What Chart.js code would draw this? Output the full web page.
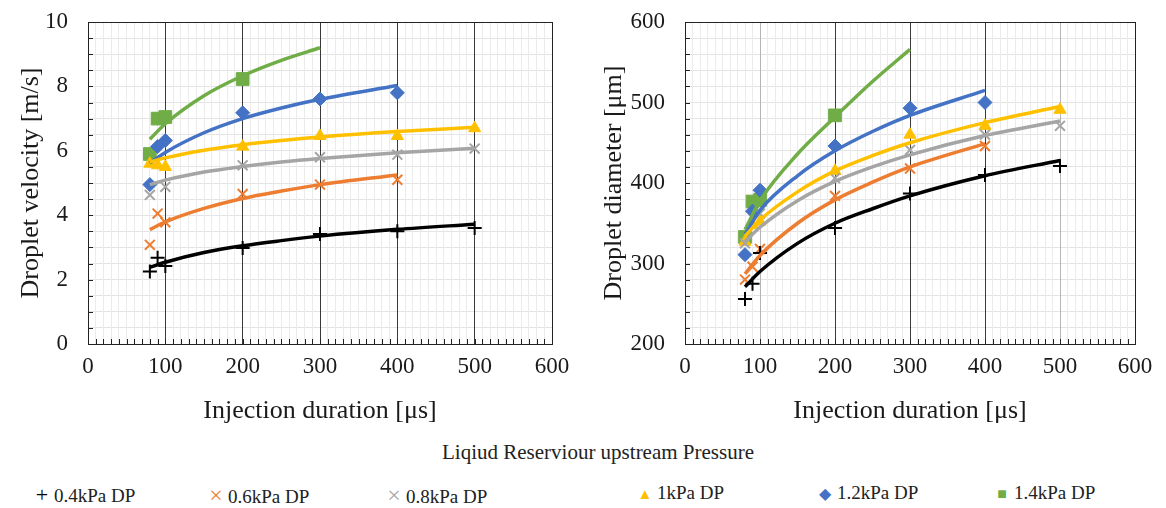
<!DOCTYPE html>
<html>
<head>
<meta charset="utf-8">
<script src="https://cdn.jsdelivr.net/npm/chart.js@4"></script>
<style>
  body { margin: 0; background: #fff; width: 1166px; height: 508px; position: relative; overflow: hidden; font-family: 'Liberation Serif', 'Times New Roman', serif; }
  .box { position: absolute; top: 0; width: 583px; height: 430px; }
  #legendTitle { position: absolute; top: 440px; left: 0; width: 1196px; text-align: center; font-size: 21px; color: #222; }
  .item { position: absolute; top: 482px; font-size: 19px; color: #222; white-space: nowrap; }
  .item span { display: inline-block; width: 18px; text-align: center; margin-right: 3px; }
</style>
</head>
<body>
<div class="box" style="left:0"><canvas id="velocityChart" width="583" height="430"></canvas></div>
<div class="box" style="left:583px"><canvas id="diameterChart" width="583" height="430"></canvas></div>
<div id="legendTitle">Liqiud Reserviour upstream Pressure</div>
<div id="legend"></div>

<script>
// Series labels and colours
const seriesLabels = ['0.4kPa DP', '0.6kPa DP', '0.8kPa DP', '1kPa DP', '1.2kPa DP', '1.4kPa DP'];
const seriesColors = ['#000000', '#ED7D31', '#A5A5A5', '#FFC000', '#4472C4', '#70AD47'];
const seriesMarkers = ['cross', 'crossRot', 'crossRot', 'triangle', 'rectRot', 'rect'];
const legendGlyphs = ['+', '\u00d7', '\u00d7', '\u25b2', '\u25c6', '\u25a0'];

// Measured injection durations [us]
const durations = [80, 90, 100, 200, 300, 400, 500];

// Droplet velocity [m/s] per pressure
const vel04 = [2.25, 2.68, 2.42, 2.98, 3.42, 3.50, 3.60];
const vel06 = [3.08, 4.05, 3.78, 4.66, 4.95, 5.10, null];
const vel08 = [4.63, null, 4.88, 5.55, 5.80, 5.88, 6.07];
const vel10 = [5.60, 5.55, 5.50, 6.13, 6.46, 6.46, 6.70];
const vel12 = [4.95, 6.13, 6.32, 7.18, 7.61, 7.80, null];
const vel14 = [5.90, 7.00, 7.05, 8.23, null, null, null];

// Droplet diameter [um] per pressure
const dia04 = [256, 275, 313, 344, 387, 410, 421];
const dia06 = [280, 296, 318, 384, 418, 446, null];
const dia08 = [325, null, 362, 406, 441, 460, 471];
const dia10 = [327, 348, 352, 415, 460, 471, 491];
const dia12 = [311, 365, 391, 446, 493, 500, null];
const dia14 = [333, 377, 379, 484, null, null, null];

// Trend lines
const trendX = [80, 100, 150, 200, 250, 300, 400, 500];
const velTrend04 = [2.38, 2.54, 2.84, 3.05, 3.21, 3.35, 3.56, 3.72];
const velTrend06 = [3.55, 3.79, 4.21, 4.52, 4.75, 4.95, 5.25, null];
const velTrend08 = [4.95, 5.09, 5.34, 5.51, 5.65, 5.76, 5.94, 6.08];
const velTrend10 = [5.65, 5.78, 6.02, 6.19, 6.32, 6.43, 6.60, 6.73];
const velTrend12 = [5.62, 5.95, 6.56, 7.00, 7.33, 7.60, 8.03, null];
const velTrend14 = [6.36, 6.84, 7.71, 8.33, 8.81, 9.20, null, null];

const diaTrend04 = [271, 290, 325, 350, 368, 384, 409, 428];
const diaTrend06 = [287, 310, 350, 379, 401, 420, 449, null];
const diaTrend08 = [327, 345, 378, 402, 420, 435, 459, 477];
const diaTrend10 = [334, 354, 389, 415, 434, 450, 475, 495];
const diaTrend12 = [336, 366, 409, 440, 464, 484, 515, null];
const diaTrend14 = [342, 378, 436, 482, 526, 566, null, null];

const velSeries = [vel04, vel06, vel08, vel10, vel12, vel14];
const velTrends = [velTrend04, velTrend06, velTrend08, velTrend10, velTrend12, velTrend14];
const diaSeries = [dia04, dia06, dia08, dia10, dia12, dia14];
const diaTrends = [diaTrend04, diaTrend06, diaTrend08, diaTrend10, diaTrend12, diaTrend14];

const FONT = "'Liberation Serif', 'Times New Roman', serif";

function toPoints(xs, ys) {
  return xs.map((x, i) => ({ x: x, y: ys[i] })).filter(p => p.y !== null);
}

function markerRadius(style) {
  if (style === 'rect') return 9;
  return 7;
}

function buildDatasets(series, trends) {
  const sets = [];
  series.forEach((ys, i) => {
    const marker = seriesMarkers[i];
    sets.push({
      type: 'line',
      label: seriesLabels[i] + ' trend',
      data: toPoints(trendX, trends[i]),
      borderColor: seriesColors[i],
      borderWidth: 3.5,
      pointRadius: 0,
      fill: false,
      cubicInterpolationMode: 'monotone',
      order: 0
    });
    sets.push({
      type: 'scatter',
      label: seriesLabels[i],
      data: toPoints(durations, ys),
      pointStyle: marker,
      pointRadius: markerRadius(marker),
      pointBackgroundColor: seriesColors[i],
      pointBorderColor: seriesColors[i],
      pointBorderWidth: marker.startsWith('cross') ? 2 : 1,
      order: 1
    });
  });
  return sets;
}

// plot box + inward tick marks
const frameAndTicks = {
  id: 'frameAndTicks',
  afterDraw(chart) {
    const { ctx, chartArea: a, scales } = chart;
    ctx.save();
    ctx.strokeStyle = '#222';
    ctx.lineWidth = 1;
    scales.x.ticks.forEach(t => {
      const px = Math.round(scales.x.getPixelForValue(t.value)) + 0.5;
      ctx.beginPath();
      ctx.moveTo(px, a.bottom);
      ctx.lineTo(px, a.bottom - 5);
      ctx.stroke();
    });
    scales.y.ticks.forEach(t => {
      const py = Math.round(scales.y.getPixelForValue(t.value)) + 0.5;
      ctx.beginPath();
      ctx.moveTo(a.left, py);
      ctx.lineTo(a.left + 5, py);
      ctx.stroke();
    });
    ctx.strokeRect(Math.round(a.left) + 0.5, Math.round(a.top) + 0.5, Math.round(a.right - a.left), Math.round(a.bottom - a.top));
    ctx.restore();
  }
};

function makeChart(canvasId, series, trends, cfg) {
  return new Chart(document.getElementById(canvasId), {
    type: 'scatter',
    data: { datasets: buildDatasets(series, trends) },
    options: {
      responsive: false,
      animation: false,
      layout: { padding: { top: 22, right: 31, left: 0, bottom: 0 } },
      plugins: { legend: { display: false }, tooltip: { enabled: false } },
      scales: {
        x: {
          type: 'linear', min: 0, max: 600,
          ticks: {
            stepSize: 10, autoSkip: false, maxRotation: 0, maxTicksLimit: 100, padding: 9,
            color: '#1a1a1a', font: { family: FONT, size: 23 },
            callback: v => (v % 100 === 0 ? v : '')
          },
          grid: { drawTicks: false, color: cfg.xGridColor, z: 0 },
          border: { color: '#222' },
          title: { display: true, text: 'Injection duration [\u03bcs]', color: '#1a1a1a', font: { family: FONT, size: 26 }, padding: { top: 0, bottom: 3 } },
          afterFit: s => { s.height = 86; }
        },
        y: {
          type: 'linear', min: cfg.yMin, max: cfg.yMax,
          ticks: {
            stepSize: cfg.yStep, autoSkip: false, maxTicksLimit: 100, padding: 20,
            color: '#1a1a1a', font: { family: FONT, size: 23 },
            callback: cfg.yLabel
          },
          grid: { drawTicks: false, color: '#e4e4e4', z: -1 },
          border: { color: '#222' },
          title: { display: true, text: cfg.yTitle, color: '#1a1a1a', font: { family: FONT, size: 26 }, padding: { top: cfg.yTitlePad, bottom: 0 } },
          afterFit: s => { s.width = cfg.yWidth; s.paddingTop = 0; s.paddingBottom = 0; }
        }
      }
    },
    plugins: [frameAndTicks]
  });
}

makeChart('velocityChart', velSeries, velTrends, {
  yMin: 0, yMax: 10, yStep: 0.5, yWidth: 88, yTitlePad: 16,
  yTitle: 'Droplet velocity [m/s]',
  yLabel: v => (Number.isInteger(v) && v % 2 === 0 ? v : ''),
  xGridColor: c => {
    const v = c.tick ? c.tick.value : 0;
    return (v % 100 === 0 && v > 0 && v < 600) ? '#3a3a3a' : '#ebebeb';
  }
});

makeChart('diameterChart', diaSeries, diaTrends, {
  yMin: 200, yMax: 600, yStep: 20, yWidth: 102, yTitlePad: 16,
  yTitle: 'Droplet diameter [\u03bcm]',
  yLabel: v => (v % 100 === 0 ? v : ''),
  xGridColor: c => {
    const v = c.tick ? c.tick.value : 0;
    if (v === 200 || v === 300 || v === 400) return '#3a3a3a';
    if (v === 100 || v === 500) return '#b5b5b5';
    return '#ebebeb';
  }
});

// shared legend
const legendLeft = [33, 207, 385, 636, 816, 993];
const glyphSize = [22, 24, 24, 15, 16, 16];
const legendBox = document.getElementById('legend');
seriesLabels.forEach((label, i) => {
  const div = document.createElement('div');
  div.className = 'item';
  div.style.left = legendLeft[i] + 'px';
  div.innerHTML = '<span style="color:' + seriesColors[i] + ';font-size:' + glyphSize[i] + 'px">' + legendGlyphs[i] + '</span>' + label;
  legendBox.appendChild(div);
});
</script>
</body>
</html>
